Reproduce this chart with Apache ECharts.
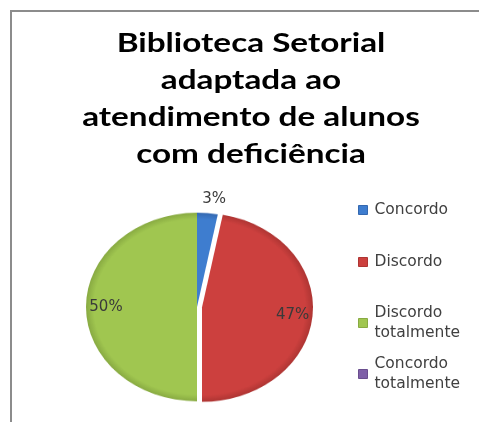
<!DOCTYPE html>
<html>
<head>
<meta charset="utf-8">
<script src="https://cdn.jsdelivr.net/npm/echarts@6/dist/echarts.min.js"></script>
<style>
  html, body { margin: 0; padding: 0; background: #fff; overflow: hidden; }
  #wrap { position: relative; width: 479px; height: 422px; background: #fff; overflow: hidden; }
  /* the pie canvas is squashed vertically to give the oval pie */
  #pie { position: absolute; left: 72px; top: 182px; width: 250px; height: 250px;
         transform: scaleY(0.85); transform-origin: 50% 50%; }
  #main { position: absolute; left: 0; top: 0; width: 479px; height: 422px; }
</style>
</head>
<body>
<div id="wrap">
  <div id="pie"></div>
  <div id="main"></div>
</div>
<script>
const titleLines = ['Biblioteca Setorial', 'adaptada ao', 'atendimento de alunos', 'com deficiência'];
const categories = ['Concordo', 'Discordo', 'Discordo totalmente', 'Concordo totalmente'];
const percentValues = [3, 47, 50, 0];
const sliceColors = ['#3E7DCF', '#CC403E', '#A0C650', '#7F60A8'];
const sliceEdgeColors = ['#3468B0', '#AE3533', '#88AA42', '#6A4E8E'];
const explodedCategory = 'Discordo';

const PIE_CX = 197, PIE_CY = 307, PIE_R = 111;
const Y_SQUASH = 0.85;
const EXPLODE = 5;

// ---- pie body (drawn on the squashed canvas) ----
const pieChart = echarts.init(document.getElementById('pie'), null, { renderer: 'canvas' });
pieChart.setOption({
  animation: false,
  series: [{
    type: 'pie',
    center: ['50%', '50%'],
    radius: PIE_R,
    startAngle: 90,
    clockwise: true,
    selectedMode: 'single',
    selectedOffset: EXPLODE,
    silent: true,
    label: { show: false },
    labelLine: { show: false },
    emphasis: { disabled: true },
    data: categories.map((name, i) => ({
      name: name,
      value: percentValues[i],
      selected: name === explodedCategory,
      itemStyle: {
        color: {
          type: 'radial', x: 125, y: 125, r: PIE_R, global: true,
          colorStops: [
            { offset: 0, color: sliceColors[i] },
            { offset: 0.93, color: sliceColors[i] },
            { offset: 1, color: sliceEdgeColors[i] }
          ]
        }
      }
    }))
  }]
});

// ---- title, frame, legend and percentage labels ----
const main = echarts.init(document.getElementById('main'), null, { renderer: 'canvas' });
const legendTops = [200, 252, 293, 344];
const legends = categories.map((name, i) => {
  const twoLines = name.indexOf(' ') >= 0;
  return {
    orient: 'vertical',
    left: 358,
    top: legendTops[i],
    padding: 0,
    itemWidth: 9,
    itemHeight: 9,
    icon: 'rect',
    selectedMode: false,
    data: [{ name: name, itemStyle: { color: sliceColors[i], borderColor: sliceEdgeColors[i], borderWidth: 1 } }],
    formatter: n => n.replace(' ', '\n'),
    textStyle: {
      fontFamily: 'DejaVu Sans', fontSize: 15.5, color: '#404040', lineHeight: 20,
      padding: twoLines ? [20, 0, 0, 2] : [0, 0, 0, 2]
    }
  };
});

main.setOption({
  animation: false,
  backgroundColor: 'transparent',
  graphic: [{
    type: 'polyline',
    shape: { points: [[11, 440], [11, 11], [500, 11]] },
    style: { fill: null, stroke: '#8C8C8C', lineWidth: 2 },
    silent: true
  }, {
    type: 'text',
    x: 251,
    y: 25,
    scaleX: 1.28,
    silent: true,
    style: {
      text: titleLines.join('\n'),
      align: 'center',
      verticalAlign: 'top',
      fontFamily: 'Lato',
      fontWeight: 'bold',
      fontSize: 26,
      lineHeight: 37,
      fill: '#000'
    }
  }],
  legend: legends,
  series: [{
    type: 'pie',
    center: [PIE_CX, PIE_CY],
    radius: [65, PIE_R],
    startAngle: 90,
    clockwise: true,
    selectedMode: 'single',
    selectedOffset: EXPLODE,
    silent: true,
    minShowLabelAngle: 1,
    emphasis: { disabled: true },
    itemStyle: { color: 'rgba(0,0,0,0)' },
    label: {
      show: true,
      formatter: p => Math.round(p.percent) + '%',
      fontFamily: 'DejaVu Sans', fontSize: 15, color: '#3A3A3A'
    },
    labelLine: { show: false, length: 17, length2: 0 },
    labelLayout: function (params) {
      // follow the squashed pie vertically; keep outside labels centred on their anchor
      const r = params.labelRect;
      const ly = r.y + r.height / 2;
      const out = { dy: (ly - PIE_CY) * (Y_SQUASH - 1) };
      if (params.align !== 'center') out.align = 'center';
      return out;
    },
    data: categories.map((name, i) => ({
      name: name,
      value: percentValues[i],
      selected: name === explodedCategory,
      label: { position: percentValues[i] < 10 ? 'outside' : 'inside' }
    }))
  }]
});
</script>
</body>
</html>
